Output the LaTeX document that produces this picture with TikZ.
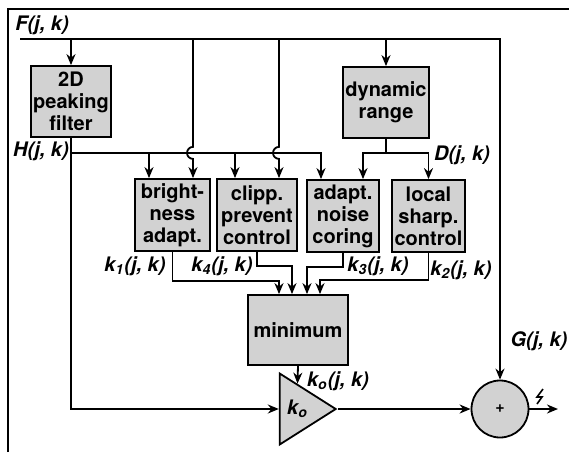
\documentclass[tikz,border=0pt]{standalone}
\usepackage{fontspec}
\setsansfont{TeX Gyre Heros}
\usetikzlibrary{arrows.meta,shapes.geometric,positioning}
\definecolor{BlockGray}{HTML}{D2D2D2}

\begin{document}
\begin{tikzpicture}[x=0.5pt,y=-0.5pt,line width=0.9pt,
  blk/.style={draw,fill=BlockGray,font=\sffamily\bfseries\fontsize{10}{11}\selectfont,
    align=center,inner sep=1pt,minimum height=36pt},
  lab/.style={font=\sffamily\bfseries\itshape\fontsize{10}{11}\selectfont,inner sep=0pt},
  flow/.style={-{Stealth[length=5.5pt,width=4.5pt]}}]
  \useasboundingbox (0,0) rectangle (569,452);
  \draw (8,452) -- (8,9) -- (569,9);

  % blocks
  \node[blk,minimum width=40pt,minimum height=35.5pt] (peak) at (71,101.5) {2D\\peaking\\filter};
  \node[blk,minimum width=43pt,minimum height=35.5pt] (dyn) at (386,102.5) {dynamic\\range};
  \node[blk,minimum width=37.5pt] (bright) at (172.5,215) {bright-\\ness\\adapt.};
  \node[blk,minimum width=40pt] (clipp) at (257,215) {clipp.\\prevent\\control};
  \node[blk,minimum width=36pt] (noise) at (343,216) {adapt.\\noise\\coring};
  \node[blk,minimum width=36.5pt] (sharp) at (428.5,216) {local\\sharp.\\control};
  \node[blk,minimum width=50pt,minimum height=35pt] (minim) at (298,330) {minimum};
  \node[draw,fill=BlockGray,isosceles triangle,isosceles triangle stretches,
    minimum width=35.5pt,minimum height=28pt,inner sep=0pt,
    font=\sffamily\bfseries\itshape\fontsize{10}{11}\selectfont] (gain) at (297.5,409) {k\textsubscript{o}};
  \node[draw,fill=BlockGray,circle,minimum size=28.5pt,inner sep=0pt,
    font=\sffamily\bfseries\footnotesize] (adder) at (500,409) {+};

  \coordinate (fbus) at (20,39);
  \coordinate (hbus) at ([yshift=-7.5pt]peak.south);
  \coordinate (dbus) at ([yshift=-7pt]dyn.south);
  \coordinate (out) at (558,409);

  % F(j,k)
  \draw[flow] (fbus) -| (adder.north);
  \draw[flow] (peak.north |- fbus) -- (peak.north);
  \draw[flow] (dyn.north |- fbus) -- (dyn.north);
  \foreach \bx/\dx in {bright/10.25pt,clipp/11pt} {
    \coordinate (tap) at ([xshift=\dx]\bx.north);
    \coordinate (hop) at (tap |- hbus);
    \draw[flow] (tap |- fbus) -- ([yshift=3pt]hop)
      arc[start angle=90,end angle=270,radius=3pt] -- (tap);
  }

  % H(j,k)
  \draw[flow] (peak.south) |- (gain.west);
  \draw[flow] (hbus) -| ([xshift=-11pt]noise.north);
  \foreach \bx/\dx in {bright/-11.75pt,clipp/-11pt} {
    \coordinate (tap) at ([xshift=\dx]\bx.north);
    \draw[flow] (tap |- hbus) -- (tap);
  }

  % D(j,k)
  \draw (dyn.south) -- (dbus);
  \draw[flow] (dbus) -| ([xshift=10pt]noise.north);
  \draw[flow] (dbus) -| (sharp.north);

  % gains into minimum
  \draw[flow] (bright.south) -- ++(0,29) -| ([xshift=-9.5pt]minim.north);
  \draw[flow] (clipp.south) -- ++(0,14) -| ([xshift=-3pt]minim.north);
  \draw[flow] (noise.south) -- ++(0,14) -| ([xshift=4.5pt]minim.north);
  \draw[flow] (sharp.south) -- ++(0,27) -| ([xshift=11pt]minim.north);

  \draw[flow] (minim.south) -- (gain.north);
  \draw[flow] (gain.apex) -- (adder.west);
  \draw[flow] (adder.east) -- (out);
  \draw[line width=0.8pt] (543,389) -- (537,397) -- (542,397) -- (537,404);

  % signal names
  \node[lab] (flab) at (42,25) {F(j, k)};
  \node[lab] (hlab) at (41,151) {H(j, k)};
  \node[lab] (dlab) at (462,155) {D(j, k)};
  \node[lab] (k1lab) at (135,266) {k\textsubscript{1}(j, k)};
  \node[lab] (k4lab) at (222,266) {k\textsubscript{4}(j, k)};
  \node[lab] (k3lab) at (378,266) {k\textsubscript{3}(j, k)};
  \node[lab] (k2lab) at (461,270) {k\textsubscript{2}(j, k)};
  \node[lab] (kolab) at (338,381) {k\textsubscript{o}(j, k)};
  \node[lab] (glab) at (539,341) {G(j, k)};
\end{tikzpicture}
\end{document}
